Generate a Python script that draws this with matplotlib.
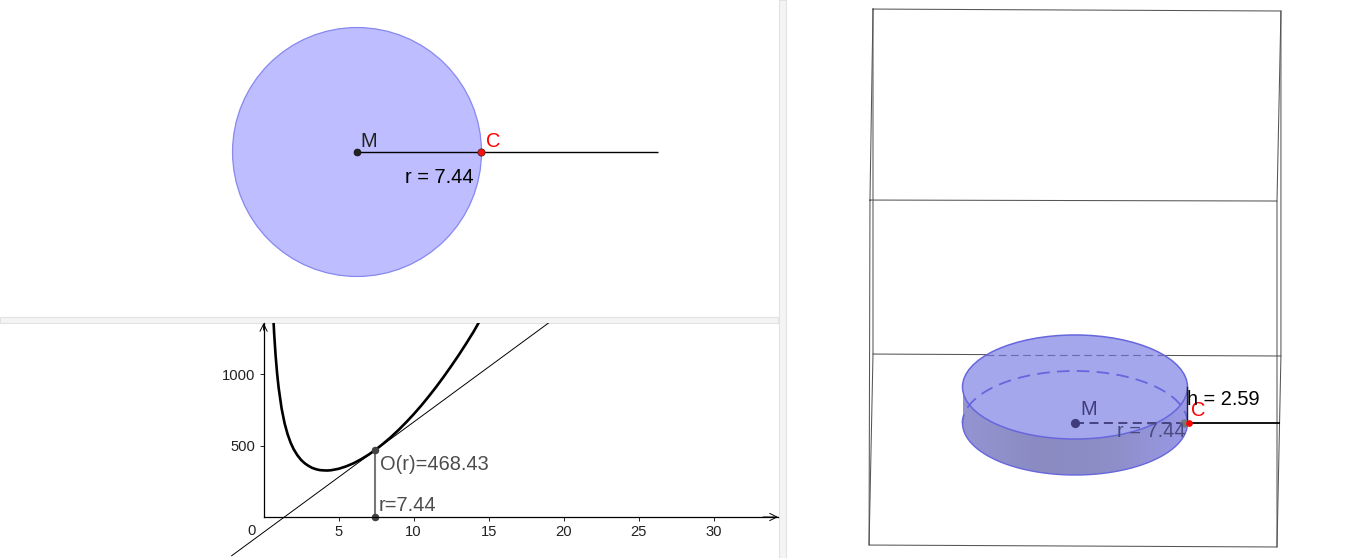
import numpy as np
import matplotlib
matplotlib.use("Agg")
import matplotlib.pyplot as plt
from matplotlib.patches import Circle, Ellipse, PathPatch, Rectangle
from matplotlib.path import Path
from matplotlib.colors import LinearSegmentedColormap

plt.rcParams["font.family"] = ["Liberation Sans", "DejaVu Sans"]

W, H = 1366, 558

# values shown in the applet
radius = 7.44
height = 2.59
surface = 468.43

# curve O(r)
curve_r = [0.6, 0.7, 0.8, 0.9, 1.0, 1.2, 1.4, 1.6, 1.8, 2.0, 2.25, 2.5, 2.75, 3.0, 3.25, 3.5,
           3.75, 4.0, 4.25, 4.5, 5.0, 5.5, 6.0, 6.5, 7.0, 7.44, 8.0, 8.5, 9.0, 9.5, 10.0,
           10.5, 11.0, 11.5, 12.0, 12.5, 13.0, 13.5, 14.0, 14.33]
curve_o = [1502, 1289, 1129, 1005, 906, 759, 655, 579, 520, 475, 432, 399, 375, 357, 343, 334,
           328, 326, 325, 327, 337, 354, 376, 404, 436, 468, 515, 560, 609, 662, 718,
           778, 842, 909, 980, 1054, 1131, 1212, 1296, 1357]
tangent_r = [-2.13, 19.0]
tangent_o = [-271, 1357]
x_ticks = [5, 10, 15, 20, 25, 30]
y_ticks = [500, 1000]

# wireframe of the 3D view
back_u = [-13.36, 13.62, 13.62, -13.36, -13.36]
back_v = [29.78, 29.64, 4.82, 4.96, 29.78]
front_u = [-13.56, 13.36, 13.36, -13.62, -13.56]
front_v = [16.04, 15.97, -8.92, -8.78, 16.04]
link_u = [[-13.36, -13.56], [13.62, 13.36], [-13.36, -13.62], [13.62, 13.36]]
link_v = [[29.78, 16.04], [29.64, 15.97], [4.96, -8.78], [4.82, -8.92]]

segment_end_2d = 18.0
segment_end_3d = 13.5
C_3d = 7.54
ELLIPSE_RATIO = 0.503

FILL_2D = "#bdbdff"
EDGE_2D = "#8888f0"
TOP_3D = "#a5a7ec"
EDGE_3D = "#6666dd"
DARK_3D = "#3f3b7c"
GREY_TXT = "#4d4d4d"
FS = 14.4
TICK_FS = 10.6


def panel(x0, y0, x1, y1):
    # axes from pixel box (y counted from the top)
    ax = fig.add_axes([x0 / W, 1 - y1 / H, (x1 - x0) / W, (y1 - y0) / H])
    ax.patch.set_alpha(0)
    return ax


def label(ax, txt, xy, off, color="black", size=FS):
    ax.annotate(txt, xy, xytext=off, textcoords="offset pixels", color=color, fontsize=size,
                ha="left", va="baseline", annotation_clip=False, zorder=20)


fig = plt.figure(figsize=(W / 100, H / 100), dpi=100, facecolor="white")

# --- circle view
ax1 = panel(0, 0, 778, 316)
s1 = 16.73
ax1.set_xlim(-357 / s1, (778 - 357) / s1)
ax1.set_ylim((152 - 316) / s1, 152 / s1)
ax1.axis("off")
ax1.add_patch(Circle((0, 0), radius, fc=FILL_2D, ec=EDGE_2D, lw=0.9))
ax1.plot([0, segment_end_2d], [0, 0], color="black", lw=1.0, solid_capstyle="butt")
ax1.plot([0], [0], "o", ms=5.0, color="#222222", mec="#111111", mew=0.5)
ax1.plot([radius], [0], "o", ms=5.2, color="#ff1010", mec="#552222", mew=0.6)
label(ax1, "M", (0, 0), (3, 5), "#222222")
label(ax1, "C", (radius, 0), (5, 5), "#ff0000")
label(ax1, "r = %.2f" % radius, (0, 0), (48, -31))

# --- graph view
ax2 = panel(0, 323, 778, 558)
s2x, s2y = 15.0, 0.143
ax2.set_xlim(-263.6 / s2x, (778 - 263.6) / s2x)
ax2.set_ylim(-(558 - 517) / s2y, (517 - 323) / s2y)
xmax, ymax = ax2.get_xlim()[1], ax2.get_ylim()[1]
for side in ["top", "right"]:
    ax2.spines[side].set_visible(False)
ax2.spines["left"].set_position(("data", 0))
ax2.spines["bottom"].set_position(("data", 0))
ax2.spines["left"].set_bounds(0, ymax)
ax2.spines["bottom"].set_bounds(0, xmax)
ax2.spines["left"].set_linewidth(0.9)
ax2.spines["bottom"].set_linewidth(0.9)
ax2.set_xticks(x_ticks)
ax2.set_yticks(y_ticks)
ax2.tick_params(axis="both", length=3, width=0.7, labelsize=TICK_FS, pad=3, colors="#222222")
ax2.tick_params(axis="x", pad=3)
ax2.annotate("", (xmax, 0), (xmax - 1, 0), annotation_clip=False,
             arrowprops=dict(arrowstyle="->", lw=0.7, color="black", mutation_scale=13, shrinkA=0, shrinkB=0))
ax2.annotate("", (0, ymax), (0, ymax - 50), annotation_clip=False,
             arrowprops=dict(arrowstyle="->", lw=0.7, color="black", mutation_scale=13, shrinkA=0, shrinkB=0))
ax2.annotate("0", (0, 0), xytext=(-12, -18), textcoords="offset pixels", ha="center", va="baseline",
             fontsize=TICK_FS, color="#222222", annotation_clip=False)
ax2.plot(tangent_r, tangent_o, color="black", lw=0.7)
ax2.plot(curve_r, curve_o, color="black", lw=1.9)
ax2.plot([radius, radius], [0, surface], color="#777777", lw=1.5)
ax2.plot([radius, radius], [0, surface], "o", ms=5.0, color="#444444", mec="#333333", mew=0.4)
label(ax2, "O(r)=%.2f" % surface, (radius, surface), (5, -20), GREY_TXT)
label(ax2, "r=%.2f" % radius, (radius, 0), (3, 6), GREY_TXT)

# --- 3D view
ax3 = panel(786, 0, 1366, 558)
su, sv = 15.12, 13.9
ax3.axis("off")
wire = dict(color="#555555", lw=0.75, zorder=1)
ax3.plot(back_u, back_v, **wire)
ax3.plot(front_u, front_v, **wire)
for lu, lv in zip(link_u, link_v):
    ax3.plot(lu, lv, **wire)

semi_v = radius * ELLIPSE_RATIO
t = np.linspace(np.pi, 2 * np.pi, 90)
side_u = np.r_[radius * np.cos(t), radius * np.cos(t[::-1])]
side_v = np.r_[semi_v * np.sin(t), height + semi_v * np.sin(t[::-1])]
side_clip = PathPatch(Path(np.c_[side_u, side_v]), transform=ax3.transData, fc="none", ec="none")
ax3.add_patch(side_clip)
side_cmap = LinearSegmentedColormap.from_list("side", ["#9494d2", "#8b8bc2", "#8e8ec8", "#9999e8"])
grad = ax3.imshow(np.linspace(0, 1, 256)[None, :], cmap=side_cmap, aspect="auto", zorder=3,
                  extent=(-radius, radius, -semi_v, height + semi_v))
grad.set_clip_path(side_clip)
ax3.set_xlim((786 - 1075) / su, (1366 - 1075) / su)
ax3.set_ylim((423 - 558) / sv, 423 / sv)
ax3.plot(radius * np.cos(t), semi_v * np.sin(t), color=EDGE_3D, lw=1.0, zorder=4)

ax3.add_patch(Ellipse((0, height), 2 * radius, 2 * semi_v, fc=TOP_3D, ec=EDGE_3D, lw=1.1, zorder=5))
# back half of the base, seen through the lid
t_back = np.linspace(0, np.pi, 90)
ax3.plot(radius * np.cos(t_back), semi_v * np.sin(t_back), color=EDGE_3D, lw=1.3, ls=(0, (7, 4)), zorder=6)
# back edge of the box, seen through the lid
box_u = radius * np.sqrt(1 - ((4.89 - height) / semi_v) ** 2)
ax3.plot([-box_u, box_u], [4.89, 4.89], color="#6a6ab4", lw=0.8, ls=(0, (7, 4)), zorder=6)

ax3.plot([0, radius], [0, 0], color=DARK_3D, lw=1.3, ls=(0, (5, 3)), zorder=7)
ax3.plot([radius, radius], [0, height], color="#222222", lw=1.0, zorder=7)
ax3.plot([C_3d, segment_end_3d], [0, 0], color="black", lw=1.3, zorder=7)
ax3.plot([0], [0], "o", ms=5.6, color=DARK_3D, mec=DARK_3D, zorder=8)
ax3.plot([radius - 0.2], [0], "o", ms=5.0, color="#777777", mec="#777777", zorder=8)
ax3.plot([C_3d], [0], "o", ms=3.8, color="#ff0000", mec="#ff0000", zorder=9)
label(ax3, "M", (0, 0), (5, 8), DARK_3D)
label(ax3, "C", (C_3d, 0), (2, 7), "#ff0000")
label(ax3, "r = %.2f" % radius, (0, 0), (42, -14), "#4a4a80")
label(ax3, "h = %.2f" % height, (radius, height), (0, -18))

# --- panel dividers
bg = fig.add_axes([0, 0, 1, 1], zorder=-1)
bg.set_xlim(0, W)
bg.set_ylim(H, 0)
bg.axis("off")
bg.add_patch(Rectangle((778.5, 0), 7, H, fc="#f4f4f4", ec="#e2e2e2", lw=0.8))
bg.add_patch(Rectangle((0, 316.5), 778, 6, fc="#f4f4f4", ec="#e2e2e2", lw=0.8))

fig.savefig("out.png", dpi=100, facecolor="white")
